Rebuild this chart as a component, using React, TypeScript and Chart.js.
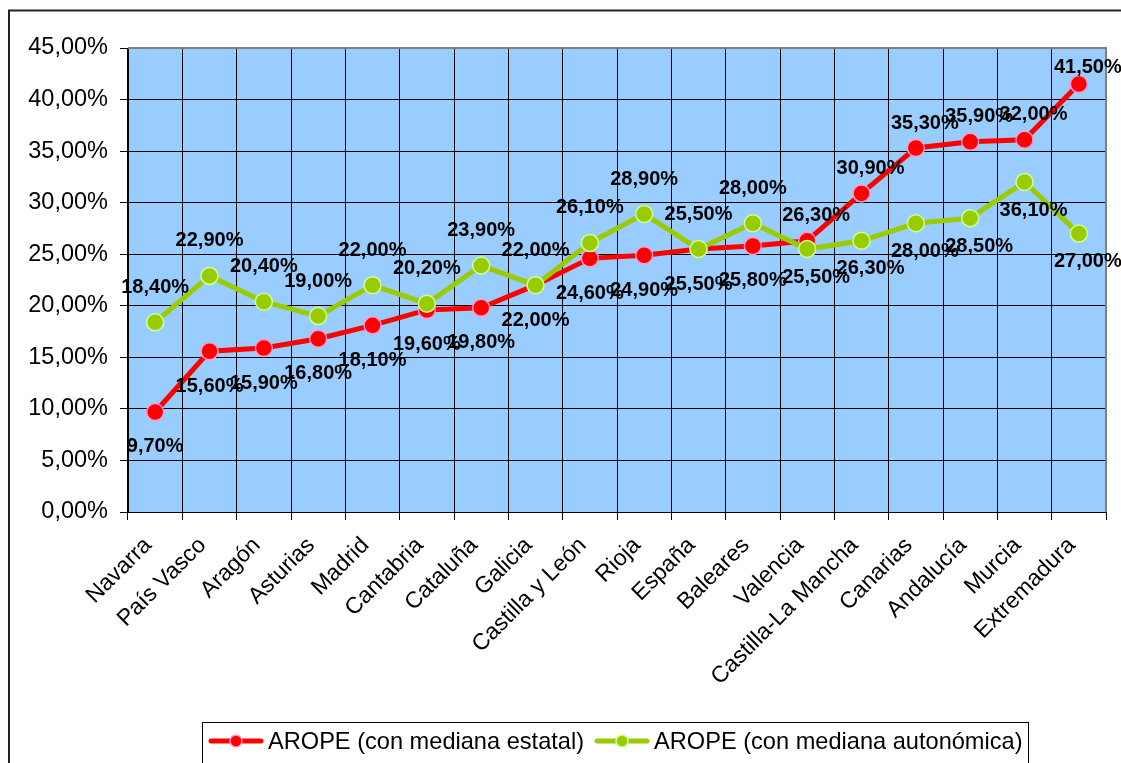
import React, { useEffect, useRef } from 'react';
import { Chart, registerables } from 'chart.js';

Chart.register(...registerables);

const categories = ['Navarra', 'País Vasco', 'Aragón', 'Asturias', 'Madrid', 'Cantabria', 'Cataluña', 'Galicia', 'Castilla y León', 'Rioja', 'España', 'Baleares', 'Valencia', 'Castilla-La Mancha', 'Canarias', 'Andalucía', 'Murcia', 'Extremadura'];
const estatalValues = [9.7, 15.6, 15.9, 16.8, 18.1, 19.6, 19.8, 22.0, 24.6, 24.9, 25.5, 25.8, 26.3, 30.9, 35.3, 35.9, 36.1, 41.5];
const autonomicaValues = [18.4, 22.9, 20.4, 19.0, 22.0, 20.2, 23.9, 22.0, 26.1, 28.9, 25.5, 28.0, 25.5, 26.3, 28.0, 28.5, 32.0, 27.0];
const estatalLabels = ['9,70%', '15,60%', '15,90%', '16,80%', '18,10%', '19,60%', '19,80%', '22,00%', '24,60%', '24,90%', '25,50%', '25,80%', '26,30%', '30,90%', '35,30%', '35,90%', '32,00%', '41,50%'];
const autonomicaLabels = ['18,40%', '22,90%', '20,40%', '19,00%', '22,00%', '20,20%', '23,90%', '22,00%', '26,10%', '28,90%', '25,50%', '28,00%', '25,50%', '26,30%', '28,00%', '28,50%', '36,10%', '27,00%'];
const seriesNames = ['AROPE (con mediana estatal)', 'AROPE (con mediana autonómica)'];
const yMin = 0;
const yMax = 45;
const yStep = 5;

const FONT = "'Liberation Sans', Arial, sans-serif";
const LABEL_FLIP_INDEX = 12;

const bgPlugin = {
  id: 'bgPlugin',
  beforeDraw(chart: any) {
    const { ctx, chartArea } = chart;
    ctx.save();
    ctx.fillStyle = '#FFFFFF';
    ctx.fillRect(0, 0, chart.width, chart.height);
    ctx.fillStyle = '#99CCFF';
    ctx.fillRect(chartArea.left, chartArea.top, chartArea.right - chartArea.left, chartArea.bottom - chartArea.top);
    ctx.strokeStyle = '#222';
    ctx.lineWidth = 2;
    ctx.beginPath();
    ctx.moveTo(9, chart.height + 5);
    ctx.lineTo(9, 10.5);
    ctx.lineTo(chart.width + 5, 10.5);
    ctx.stroke();
    ctx.restore();
  },
  beforeDatasetsDraw(chart: any) {
    const { ctx, chartArea } = chart;
    ctx.save();
    ctx.strokeStyle = '#808080';
    ctx.lineWidth = 2;
    ctx.beginPath();
    ctx.moveTo(chartArea.left, chartArea.top);
    ctx.lineTo(chartArea.right, chartArea.top);
    ctx.lineTo(chartArea.right, chartArea.bottom);
    ctx.stroke();
    ctx.restore();
  },
};

const labelPlugin = {
  id: 'labelPlugin',
  afterDatasetsDraw(chart: any) {
    const { ctx, chartArea } = chart;
    ctx.save();
    ctx.font = `bold 20px ${FONT}`;
    ctx.fillStyle = '#000';
    ctx.textAlign = 'center';
    ctx.textBaseline = 'middle';
    chart.data.datasets.forEach((ds: any, di: number) => {
      const meta = chart.getDatasetMeta(di);
      const texts: string[] = ds.labelTexts;
      meta.data.forEach((pt: any, i: number) => {
        const before = i < LABEL_FLIP_INDEX;
        let dx = 0;
        let dy: number;
        if (before) {
          dy = ds.labelBelowFirst ? 35 : -35;
        } else {
          dx = 9;
          dy = ds.labelBelowFirst ? -25 : 28;
        }
        let y = pt.y + dy;
        y = Math.max(y, chartArea.top + 19);
        ctx.fillText(texts[i], pt.x + dx, y);
      });
    });
    ctx.restore();
  },
};

const legendPlugin = {
  id: 'customLegend',
  afterDraw(chart: any) {
    const { ctx } = chart;
    ctx.save();
    ctx.strokeStyle = '#000';
    ctx.lineWidth = 1;
    ctx.strokeRect(202.5, 722.5, 826, 80);
    ctx.font = `23.6px ${FONT}`;
    ctx.textBaseline = 'middle';
    ctx.textAlign = 'left';
    const cy = 741;
    let x = 209;
    chart.data.datasets.forEach((ds: any) => {
      ctx.strokeStyle = ds.borderColor;
      ctx.lineWidth = 5;
      ctx.lineCap = 'round';
      ctx.beginPath();
      ctx.moveTo(x + 2, cy);
      ctx.lineTo(x + 52, cy);
      ctx.stroke();
      ctx.beginPath();
      ctx.arc(x + 27, cy, 6, 0, Math.PI * 2);
      ctx.fillStyle = ds.pointBackgroundColor;
      ctx.fill();
      ctx.lineWidth = 1.5;
      ctx.strokeStyle = ds.pointBorderColor;
      ctx.stroke();
      ctx.fillStyle = '#000';
      ctx.fillText(ds.label, x + 59, cy + 1);
      x = x + 59 + ctx.measureText(ds.label).width + 11;
    });
    ctx.restore();
  },
};

export default function App() {
  const ref = useRef<HTMLCanvasElement | null>(null);

  useEffect(() => {
    if (!ref.current) return;
    const chart = new Chart(ref.current, {
      type: 'line',
      data: {
        labels: categories,
        datasets: [
          {
            label: seriesNames[0],
            data: estatalValues,
            borderColor: '#FF0000',
            backgroundColor: '#FF0000',
            pointBackgroundColor: '#FF0000',
            pointBorderColor: '#FF99CC',
            pointBorderWidth: 1.5,
            pointRadius: 8.5,
            borderWidth: 5,
            tension: 0,
            order: 1,
            labelTexts: estatalLabels,
            labelBelowFirst: true,
          } as any,
          {
            label: seriesNames[1],
            data: autonomicaValues,
            borderColor: '#99CC00',
            backgroundColor: '#99CC00',
            pointBackgroundColor: '#99CC00',
            pointBorderColor: '#CCFF99',
            pointBorderWidth: 1.5,
            pointRadius: 8.5,
            borderWidth: 5,
            tension: 0,
            order: 0,
            labelTexts: autonomicaLabels,
            labelBelowFirst: false,
          } as any,
        ],
      },
      options: {
        responsive: false,
        animation: false,
        events: [],
        layout: { padding: { top: 48, right: 15, left: 0, bottom: 0 } },
        plugins: {
          legend: { display: false },
          tooltip: { enabled: false },
          title: { display: false },
        },
        scales: {
          x: {
            offset: true,
            grid: { offset: true, color: '#000', lineWidth: 1, tickLength: 8, tickColor: '#000' },
            border: { color: '#000', width: 1 },
            ticks: {
              autoSkip: false,
              maxRotation: 45,
              minRotation: 45,
              color: '#000',
              padding: 12,
              labelOffset: -7,
              font: { family: FONT, size: 23 },
            },
            afterFit(scale: any) {
              scale.height = 251;
            },
          },
          y: {
            min: yMin,
            max: yMax,
            grid: { color: '#000', lineWidth: 1, tickLength: 8, tickColor: '#000' },
            border: { color: '#000', width: 1 },
            ticks: {
              stepSize: yStep,
              color: '#000',
              padding: 12,
              font: { family: FONT, size: 23.5 },
              callback: (v: any) => Number(v).toFixed(2).replace('.', ',') + '%',
            },
            afterFit(scale: any) {
              scale.width = 128;
            },
          },
        },
      },
      plugins: [bgPlugin, labelPlugin, legendPlugin],
    });
    return () => chart.destroy();
  }, []);

  return (
    <div style={{ position: 'absolute', left: 0, top: 0, width: 1121, height: 763, overflow: 'hidden' }}>
      <canvas ref={ref} width={1121} height={763} style={{ display: 'block' }} />
    </div>
  );
}
